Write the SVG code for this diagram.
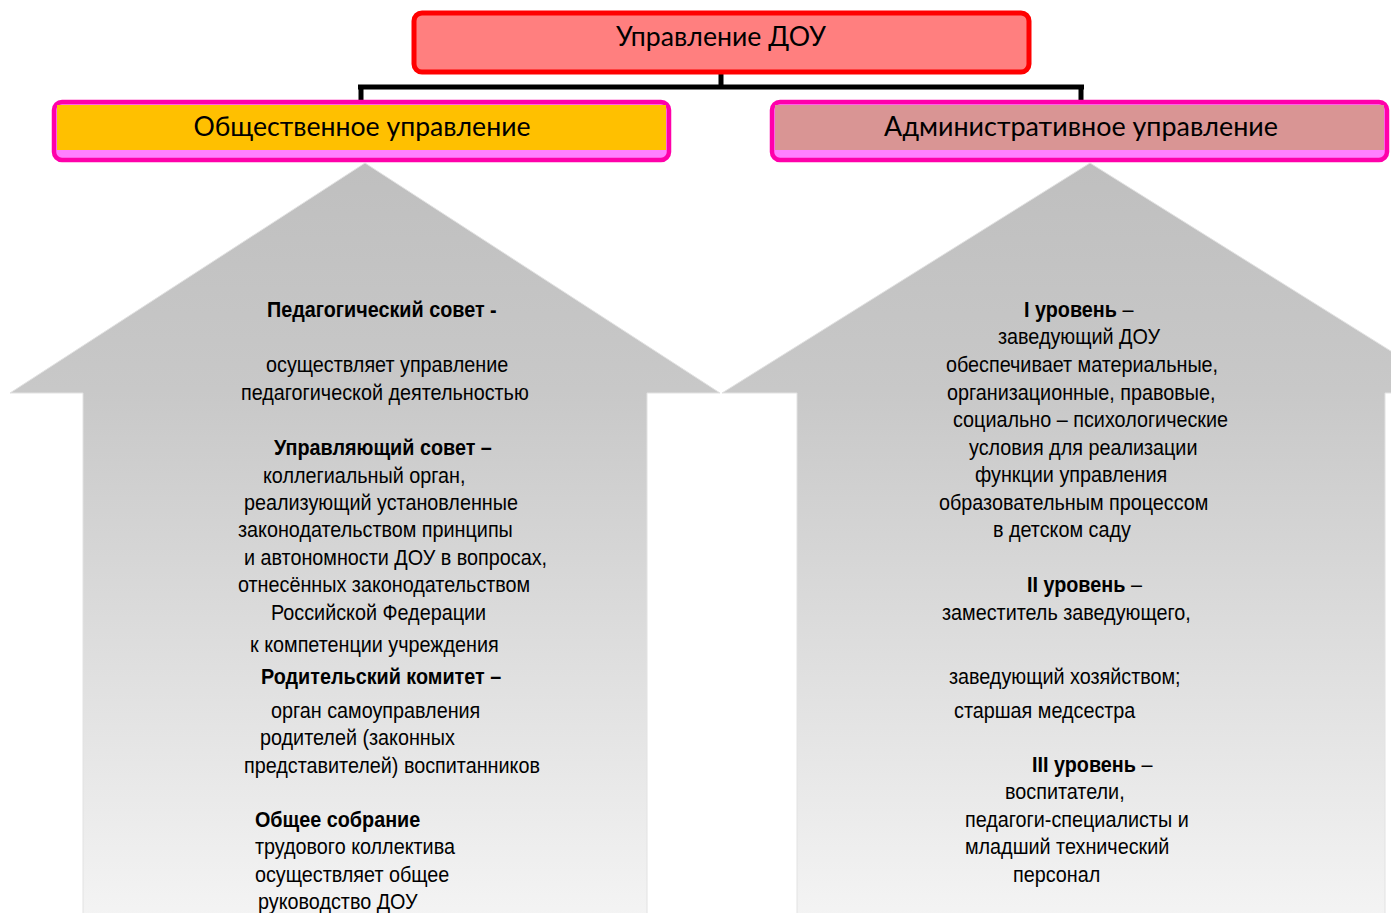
<svg xmlns="http://www.w3.org/2000/svg" width="1391" height="913" viewBox="0 0 1391 913">
<defs>
<linearGradient id="g" x1="0" y1="0" x2="0" y2="1" gradientUnits="objectBoundingBox">
<stop offset="0" stop-color="#BFBFBF"/>
<stop offset="0.3" stop-color="#C8C8C8"/>
<stop offset="1" stop-color="#F4F4F4"/>
</linearGradient>
<style>
.hd{font-family:Lato,"Open Sans",sans-serif;font-size:26px;fill:#000;text-anchor:middle}
.t{font-family:"Liberation Sans",Arial,sans-serif;font-size:22px;fill:#000}
.b{font-weight:bold}
.conn{stroke:#000;stroke-width:5;fill:none}
.arrow{fill:url(#g);stroke:#E2E2E2;stroke-width:1}
</style>
</defs>
<rect width="1391" height="913" fill="#fff"/>
<g id="arrow-left">
<path class="arrow" d="M365,163 L720,393 L647,393 L647,920 L83,920 L83,393 L10,393 Z"/>
</g>
<g id="arrow-right">
<path class="arrow" d="M1090,163 L1458,393 L1385,393 L1385,920 L797,920 L797,393 L722,393 Z"/>
</g>
<g id="connectors">
<path class="conn" d="M721,73 V87 M358,87 H1084 M361,87 V101 M1081,87 V101"/>
</g>
<g id="root">
<rect x="414" y="13" width="615" height="59" rx="8" fill="#FF7F7F" stroke="#FF0000" stroke-width="5"/>
<text class="hd" x="721" y="46" textLength="210" lengthAdjust="spacingAndGlyphs">Управление ДОУ</text>
</g>
<g id="public">
<rect x="54" y="102" width="615" height="58" rx="8" fill="#FF80FF" stroke="#FF00AA" stroke-width="4.5"/>
<rect x="57" y="105" width="609" height="45" fill="#FFC000"/>
<text class="hd" x="362" y="136" textLength="337" lengthAdjust="spacingAndGlyphs">Общественное управление</text>
</g>
<g id="admin">
<rect x="772" y="102" width="615" height="58" rx="8" fill="#FF80FF" stroke="#FF00AA" stroke-width="4.5"/>
<rect x="775" y="105" width="609" height="45" fill="#D99594"/>
<text class="hd" x="1081" y="136" textLength="394" lengthAdjust="spacingAndGlyphs">Административное управление</text>
</g>
<g id="public-text" transform="scale(0.9,1)">
<text class="t b" x="296.7" y="317">Педагогический совет -</text>
<text class="t" x="295.6" y="372">осуществляет управление</text>
<text class="t" x="267.8" y="400">педагогической деятельностью</text>
<text class="t b" x="304.4" y="455">Управляющий совет –</text>
<text class="t" x="292.2" y="483">коллегиальный орган,</text>
<text class="t" x="271.1" y="510">реализующий установленные</text>
<text class="t" x="264.4" y="537">законодательством принципы</text>
<text class="t" x="271.1" y="565">и автономности ДОУ в вопросах,</text>
<text class="t" x="264.4" y="592">отнесённых законодательством</text>
<text class="t" x="301.1" y="620">Российской Федерации</text>
<text class="t" x="277.8" y="652">к компетенции учреждения</text>
<text class="t b" x="290" y="684">Родительский комитет –</text>
<text class="t" x="301.1" y="718">орган самоуправления</text>
<text class="t" x="288.9" y="745">родителей (законных</text>
<text class="t" x="271.1" y="773">представителей) воспитанников</text>
<text class="t b" x="283.3" y="827">Общее собрание</text>
<text class="t" x="283.3" y="854">трудового коллектива</text>
<text class="t" x="283.3" y="882">осуществляет общее</text>
<text class="t" x="286.7" y="909">руководство ДОУ</text>
</g>
<g id="admin-text" transform="scale(0.9,1)">
<text class="t" x="1137.8" y="317"><tspan class="b">I уровень</tspan> –</text>
<text class="t" x="1108.9" y="344">заведующий ДОУ</text>
<text class="t" x="1051.1" y="372">обеспечивает материальные,</text>
<text class="t" x="1052.2" y="400">организационные, правовые,</text>
<text class="t" x="1058.9" y="427">социально – психологические</text>
<text class="t" x="1076.7" y="455">условия для реализации</text>
<text class="t" x="1083.3" y="482">функции управления</text>
<text class="t" x="1043.3" y="510">образовательным процессом</text>
<text class="t" x="1103.3" y="537">в детском саду</text>
<text class="t" x="1141.1" y="592"><tspan class="b">II уровень</tspan> –</text>
<text class="t" x="1046.7" y="620">заместитель заведующего,</text>
<text class="t" x="1054.4" y="684">заведующий хозяйством;</text>
<text class="t" x="1060" y="718">старшая медсестра</text>
<text class="t" x="1146.7" y="772"><tspan class="b">III уровень</tspan> –</text>
<text class="t" x="1116.7" y="799">воспитатели,</text>
<text class="t" x="1072.2" y="827">педагоги-специалисты и</text>
<text class="t" x="1072.2" y="854">младший технический</text>
<text class="t" x="1125.6" y="882">персонал</text>
</g>
</svg>
